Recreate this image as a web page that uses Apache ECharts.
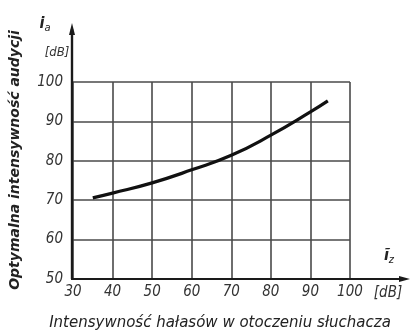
<!DOCTYPE html>
<html><head><meta charset="utf-8">
<script src="https://cdn.jsdelivr.net/npm/echarts@6/dist/echarts.min.js"></script>
<style>html,body{margin:0;padding:0;background:#fff}#c{width:410px;height:334px}</style>
</head><body><div id="c"></div>
<script>
const noiseLevel = [35, 40, 50, 60, 70, 80, 90, 94.4];
const optimalLevel = [70.6, 71.8, 74.4, 77.7, 81.4, 86.5, 92.4, 95.2];
const xTicks = [30, 40, 50, 60, 70, 80, 90, 100];
const yTicks = [50, 60, 70, 80, 90, 100];
const xTitle = 'Intensywność hałasów w otoczeniu słuchacza';
const yTitle = 'Optymalna intensywność audycji';
const unit = '[dB]';

const FONT = '"DejaVu Sans Condensed", "DejaVu Sans", sans-serif';
const FONT2 = '"DejaVu Sans", sans-serif';
const chart = echarts.init(document.getElementById('c'));
const gridCol = '#4a4a4a';
const labelStyle = { fontFamily: FONT, fontStyle: 'italic', fontSize: 15, color: '#333' };

chart.setOption({
  backgroundColor: '#fff',
  animation: false,
  grid: { left: 73, right: 60, top: 82, bottom: 55 },
  xAxis: {
    type: 'value', min: xTicks[0], max: xTicks[xTicks.length - 1], interval: 10,
    axisLine: { show: false }, axisTick: { show: false },
    splitLine: { show: true, lineStyle: { color: gridCol, width: 1.6 } },
    axisLabel: Object.assign({ margin: 6, showMinLabel: true, showMaxLabel: true }, labelStyle)
  },
  yAxis: {
    type: 'value', min: yTicks[0], max: yTicks[yTicks.length - 1], interval: 10,
    axisLine: { show: false }, axisTick: { show: false },
    splitLine: { show: true, lineStyle: { color: gridCol, width: 1.6 } },
    axisLabel: Object.assign({ margin: 10 }, labelStyle)
  },
  series: [{
    type: 'line', smooth: true, symbol: 'none',
    data: noiseLevel.map((x, i) => [x, optimalLevel[i]]),
    lineStyle: { color: '#111', width: 3.2 }
  }]
});

const o = chart.convertToPixel({ gridIndex: 0 }, [xTicks[0], yTicks[0]]);
const t = chart.convertToPixel({ gridIndex: 0 }, [xTicks[0], yTicks[yTicks.length - 1]]);
const r = chart.convertToPixel({ gridIndex: 0 }, [xTicks[xTicks.length - 1], yTicks[0]]);
const W = chart.getWidth();
const axisCol = '#1a1a1a';
const yTop = 23;
const txt = (x, y, s, extra) => ({ type: 'text', x, y, style: Object.assign({ text: s, fill: '#222', font: 'italic 13px ' + FONT, align: 'center', verticalAlign: 'middle' }, extra || {}) });
const rich = { i: { font: 'italic bold 16px ' + FONT, fill: '#222' }, s: { font: 'italic 11px ' + FONT, fill: '#222', padding: [9, 0, 0, 0] } };

chart.setOption({
  graphic: [
    { type: 'line', shape: { x1: o[0] - 1, y1: o[1], x2: o[0] - 1, y2: yTop + 6 }, style: { stroke: axisCol, lineWidth: 2.4 } },
    { type: 'polygon', shape: { points: [[o[0] - 1, yTop], [o[0] - 4, yTop + 12], [o[0] + 2, yTop + 12]] }, style: { fill: axisCol } },
    { type: 'line', shape: { x1: o[0] - 2, y1: o[1], x2: W - 8, y2: o[1] }, style: { stroke: axisCol, lineWidth: 2.2 } },
    { type: 'polygon', shape: { points: [[W, o[1]], [W - 11, o[1] - 3], [W - 11, o[1] + 3]] }, style: { fill: axisCol } },
    txt(r[0] + 38, o[1] + 14, unit, { font: 'italic 15px ' + FONT, fill: '#333' }),
    txt(o[0] - 16, 53, unit, { font: 'italic 13px ' + FONT, fill: '#333' }),
    { type: 'text', x: 45, y: 24, style: { rich, text: '{i|i}{s|a}', align: 'center', verticalAlign: 'middle' } },
    { type: 'text', x: 389, y: 256, style: { rich, text: '{i|ĩ}{s|z}', align: 'center', verticalAlign: 'middle' } },
    txt(220, 323, xTitle, { font: 'italic 15px ' + FONT2, fill: '#222' }),
    { type: 'text', x: 15, y: 160, rotation: Math.PI / 2, style: { text: yTitle, font: 'italic bold 14px ' + FONT2, fill: '#222', align: 'center', verticalAlign: 'middle' } }
  ]
});
</script></body></html>
